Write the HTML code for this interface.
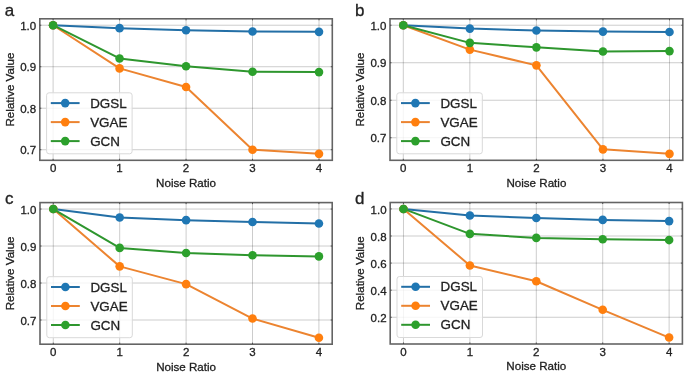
<!DOCTYPE html>
<html><head><meta charset="utf-8"><style>
html,body{margin:0;padding:0;background:#fff;}
body{width:685px;height:376px;overflow:hidden;}
svg{display:block;will-change:transform;}
text{font-family:"Liberation Sans",sans-serif;fill:#222;stroke:#222;stroke-width:0.3px;}
</style></head><body>
<svg width="685" height="376" viewBox="0 0 685 376">
<rect width="685" height="376" fill="#fff"/>
<g>
<rect x="39.8" y="18.8" width="292.5" height="141.5" fill="#fff"/>
<line x1="53.1" y1="18.8" x2="53.1" y2="160.3" stroke="#000" stroke-opacity="0.2" stroke-width="1.0"/>
<line x1="119.57" y1="18.8" x2="119.57" y2="160.3" stroke="#000" stroke-opacity="0.2" stroke-width="1.0"/>
<line x1="186.05" y1="18.8" x2="186.05" y2="160.3" stroke="#000" stroke-opacity="0.2" stroke-width="1.0"/>
<line x1="252.53" y1="18.8" x2="252.53" y2="160.3" stroke="#000" stroke-opacity="0.2" stroke-width="1.0"/>
<line x1="319" y1="18.8" x2="319" y2="160.3" stroke="#000" stroke-opacity="0.2" stroke-width="1.0"/>
<line x1="39.8" y1="149.72" x2="332.3" y2="149.72" stroke="#000" stroke-opacity="0.2" stroke-width="1.0"/>
<line x1="39.8" y1="108.22" x2="332.3" y2="108.22" stroke="#000" stroke-opacity="0.2" stroke-width="1.0"/>
<line x1="39.8" y1="66.73" x2="332.3" y2="66.73" stroke="#000" stroke-opacity="0.2" stroke-width="1.0"/>
<line x1="39.8" y1="25.23" x2="332.3" y2="25.23" stroke="#000" stroke-opacity="0.2" stroke-width="1.0"/>
<polyline points="53.1,25.23 119.57,28.14 186.05,30.21 252.53,31.46 319,31.87" fill="none" stroke="#236fa6" stroke-width="2.0" stroke-linejoin="round"/>
<circle cx="53.1" cy="25.23" r="4.3" fill="#1f77b4"/>
<circle cx="119.57" cy="28.14" r="4.3" fill="#1f77b4"/>
<circle cx="186.05" cy="30.21" r="4.3" fill="#1f77b4"/>
<circle cx="252.53" cy="31.46" r="4.3" fill="#1f77b4"/>
<circle cx="319" cy="31.87" r="4.3" fill="#1f77b4"/>
<polyline points="53.1,25.23 119.57,68.39 186.05,87.06 252.53,149.72 319,153.87" fill="none" stroke="#ec8430" stroke-width="2.0" stroke-linejoin="round"/>
<circle cx="53.1" cy="25.23" r="4.3" fill="#ff7f0e"/>
<circle cx="119.57" cy="68.39" r="4.3" fill="#ff7f0e"/>
<circle cx="186.05" cy="87.06" r="4.3" fill="#ff7f0e"/>
<circle cx="252.53" cy="149.72" r="4.3" fill="#ff7f0e"/>
<circle cx="319" cy="153.87" r="4.3" fill="#ff7f0e"/>
<polyline points="53.1,25.23 119.57,58.43 186.05,66.31 252.53,71.71 319,72.12" fill="none" stroke="#2e962e" stroke-width="2.0" stroke-linejoin="round"/>
<circle cx="53.1" cy="25.23" r="4.3" fill="#2ca02c"/>
<circle cx="119.57" cy="58.43" r="4.3" fill="#2ca02c"/>
<circle cx="186.05" cy="66.31" r="4.3" fill="#2ca02c"/>
<circle cx="252.53" cy="71.71" r="4.3" fill="#2ca02c"/>
<circle cx="319" cy="72.12" r="4.3" fill="#2ca02c"/>
<rect x="46.6" y="92.8" width="85.5" height="61" rx="2.5" fill="#fff" fill-opacity="0.8" stroke="#d9d9d9" stroke-width="1"/>
<line x1="50.8" y1="103.1" x2="79.6" y2="103.1" stroke="#236fa6" stroke-width="2.0"/>
<circle cx="65.2" cy="103.1" r="4.3" fill="#1f77b4"/>
<text x="90.2" y="107.6" font-size="13.4">DGSL</text>
<line x1="50.8" y1="122.1" x2="79.6" y2="122.1" stroke="#ec8430" stroke-width="2.0"/>
<circle cx="65.2" cy="122.1" r="4.3" fill="#ff7f0e"/>
<text x="90.2" y="126.6" font-size="13.4">VGAE</text>
<line x1="50.8" y1="141.1" x2="79.6" y2="141.1" stroke="#2e962e" stroke-width="2.0"/>
<circle cx="65.2" cy="141.1" r="4.3" fill="#2ca02c"/>
<text x="90.2" y="145.6" font-size="13.4">GCN</text>
<rect x="39.8" y="18.8" width="292.5" height="141.5" fill="none" stroke="#646464" stroke-width="1.6"/>
<line x1="53.1" y1="160.3" x2="53.1" y2="158.8" stroke="#444" stroke-width="0.9"/>
<line x1="53.1" y1="18.8" x2="53.1" y2="20.3" stroke="#444" stroke-width="0.9"/>
<text x="53.1" y="171.9" font-size="11.5" text-anchor="middle">0</text>
<line x1="119.57" y1="160.3" x2="119.57" y2="158.8" stroke="#444" stroke-width="0.9"/>
<line x1="119.57" y1="18.8" x2="119.57" y2="20.3" stroke="#444" stroke-width="0.9"/>
<text x="119.57" y="171.9" font-size="11.5" text-anchor="middle">1</text>
<line x1="186.05" y1="160.3" x2="186.05" y2="158.8" stroke="#444" stroke-width="0.9"/>
<line x1="186.05" y1="18.8" x2="186.05" y2="20.3" stroke="#444" stroke-width="0.9"/>
<text x="186.05" y="171.9" font-size="11.5" text-anchor="middle">2</text>
<line x1="252.53" y1="160.3" x2="252.53" y2="158.8" stroke="#444" stroke-width="0.9"/>
<line x1="252.53" y1="18.8" x2="252.53" y2="20.3" stroke="#444" stroke-width="0.9"/>
<text x="252.53" y="171.9" font-size="11.5" text-anchor="middle">3</text>
<line x1="319" y1="160.3" x2="319" y2="158.8" stroke="#444" stroke-width="0.9"/>
<line x1="319" y1="18.8" x2="319" y2="20.3" stroke="#444" stroke-width="0.9"/>
<text x="319" y="171.9" font-size="11.5" text-anchor="middle">4</text>
<line x1="39.8" y1="149.72" x2="41.3" y2="149.72" stroke="#444" stroke-width="0.9"/>
<line x1="332.3" y1="149.72" x2="330.8" y2="149.72" stroke="#444" stroke-width="0.9"/>
<text x="36.2" y="154.32" font-size="11.5" text-anchor="end">0.7</text>
<line x1="39.8" y1="108.22" x2="41.3" y2="108.22" stroke="#444" stroke-width="0.9"/>
<line x1="332.3" y1="108.22" x2="330.8" y2="108.22" stroke="#444" stroke-width="0.9"/>
<text x="36.2" y="112.82" font-size="11.5" text-anchor="end">0.8</text>
<line x1="39.8" y1="66.73" x2="41.3" y2="66.73" stroke="#444" stroke-width="0.9"/>
<line x1="332.3" y1="66.73" x2="330.8" y2="66.73" stroke="#444" stroke-width="0.9"/>
<text x="36.2" y="71.33" font-size="11.5" text-anchor="end">0.9</text>
<line x1="39.8" y1="25.23" x2="41.3" y2="25.23" stroke="#444" stroke-width="0.9"/>
<line x1="332.3" y1="25.23" x2="330.8" y2="25.23" stroke="#444" stroke-width="0.9"/>
<text x="36.2" y="29.83" font-size="11.5" text-anchor="end">1.0</text>
<text x="186.05" y="186.7" font-size="11.6" text-anchor="middle">Noise Ratio</text>
<text transform="translate(13.7,89.55) rotate(-90)" x="0" y="0" font-size="11.6" text-anchor="middle">Relative Value</text>
<text x="4.7" y="15.8" font-size="17">a</text>
<rect x="390" y="18.8" width="292.8" height="141.5" fill="#fff"/>
<line x1="403.31" y1="18.8" x2="403.31" y2="160.3" stroke="#000" stroke-opacity="0.2" stroke-width="1.0"/>
<line x1="469.85" y1="18.8" x2="469.85" y2="160.3" stroke="#000" stroke-opacity="0.2" stroke-width="1.0"/>
<line x1="536.4" y1="18.8" x2="536.4" y2="160.3" stroke="#000" stroke-opacity="0.2" stroke-width="1.0"/>
<line x1="602.95" y1="18.8" x2="602.95" y2="160.3" stroke="#000" stroke-opacity="0.2" stroke-width="1.0"/>
<line x1="669.49" y1="18.8" x2="669.49" y2="160.3" stroke="#000" stroke-opacity="0.2" stroke-width="1.0"/>
<line x1="390" y1="137.74" x2="682.8" y2="137.74" stroke="#000" stroke-opacity="0.2" stroke-width="1.0"/>
<line x1="390" y1="100.24" x2="682.8" y2="100.24" stroke="#000" stroke-opacity="0.2" stroke-width="1.0"/>
<line x1="390" y1="62.74" x2="682.8" y2="62.74" stroke="#000" stroke-opacity="0.2" stroke-width="1.0"/>
<line x1="390" y1="25.23" x2="682.8" y2="25.23" stroke="#000" stroke-opacity="0.2" stroke-width="1.0"/>
<polyline points="403.31,25.23 469.85,28.61 536.4,30.48 602.95,31.61 669.49,31.98" fill="none" stroke="#236fa6" stroke-width="2.0" stroke-linejoin="round"/>
<circle cx="403.31" cy="25.23" r="4.3" fill="#1f77b4"/>
<circle cx="469.85" cy="28.61" r="4.3" fill="#1f77b4"/>
<circle cx="536.4" cy="30.48" r="4.3" fill="#1f77b4"/>
<circle cx="602.95" cy="31.61" r="4.3" fill="#1f77b4"/>
<circle cx="669.49" cy="31.98" r="4.3" fill="#1f77b4"/>
<polyline points="403.31,25.23 469.85,49.61 536.4,65.36 602.95,149.37 669.49,153.87" fill="none" stroke="#ec8430" stroke-width="2.0" stroke-linejoin="round"/>
<circle cx="403.31" cy="25.23" r="4.3" fill="#ff7f0e"/>
<circle cx="469.85" cy="49.61" r="4.3" fill="#ff7f0e"/>
<circle cx="536.4" cy="65.36" r="4.3" fill="#ff7f0e"/>
<circle cx="602.95" cy="149.37" r="4.3" fill="#ff7f0e"/>
<circle cx="669.49" cy="153.87" r="4.3" fill="#ff7f0e"/>
<polyline points="403.31,25.23 469.85,42.86 536.4,47.36 602.95,51.48 669.49,51.11" fill="none" stroke="#2e962e" stroke-width="2.0" stroke-linejoin="round"/>
<circle cx="403.31" cy="25.23" r="4.3" fill="#2ca02c"/>
<circle cx="469.85" cy="42.86" r="4.3" fill="#2ca02c"/>
<circle cx="536.4" cy="47.36" r="4.3" fill="#2ca02c"/>
<circle cx="602.95" cy="51.48" r="4.3" fill="#2ca02c"/>
<circle cx="669.49" cy="51.11" r="4.3" fill="#2ca02c"/>
<rect x="396.8" y="92.8" width="85.5" height="61" rx="2.5" fill="#fff" fill-opacity="0.8" stroke="#d9d9d9" stroke-width="1"/>
<line x1="401" y1="103.1" x2="429.8" y2="103.1" stroke="#236fa6" stroke-width="2.0"/>
<circle cx="415.4" cy="103.1" r="4.3" fill="#1f77b4"/>
<text x="440.4" y="107.6" font-size="13.4">DGSL</text>
<line x1="401" y1="122.1" x2="429.8" y2="122.1" stroke="#ec8430" stroke-width="2.0"/>
<circle cx="415.4" cy="122.1" r="4.3" fill="#ff7f0e"/>
<text x="440.4" y="126.6" font-size="13.4">VGAE</text>
<line x1="401" y1="141.1" x2="429.8" y2="141.1" stroke="#2e962e" stroke-width="2.0"/>
<circle cx="415.4" cy="141.1" r="4.3" fill="#2ca02c"/>
<text x="440.4" y="145.6" font-size="13.4">GCN</text>
<rect x="390" y="18.8" width="292.8" height="141.5" fill="none" stroke="#646464" stroke-width="1.6"/>
<line x1="403.31" y1="160.3" x2="403.31" y2="158.8" stroke="#444" stroke-width="0.9"/>
<line x1="403.31" y1="18.8" x2="403.31" y2="20.3" stroke="#444" stroke-width="0.9"/>
<text x="403.31" y="171.9" font-size="11.5" text-anchor="middle">0</text>
<line x1="469.85" y1="160.3" x2="469.85" y2="158.8" stroke="#444" stroke-width="0.9"/>
<line x1="469.85" y1="18.8" x2="469.85" y2="20.3" stroke="#444" stroke-width="0.9"/>
<text x="469.85" y="171.9" font-size="11.5" text-anchor="middle">1</text>
<line x1="536.4" y1="160.3" x2="536.4" y2="158.8" stroke="#444" stroke-width="0.9"/>
<line x1="536.4" y1="18.8" x2="536.4" y2="20.3" stroke="#444" stroke-width="0.9"/>
<text x="536.4" y="171.9" font-size="11.5" text-anchor="middle">2</text>
<line x1="602.95" y1="160.3" x2="602.95" y2="158.8" stroke="#444" stroke-width="0.9"/>
<line x1="602.95" y1="18.8" x2="602.95" y2="20.3" stroke="#444" stroke-width="0.9"/>
<text x="602.95" y="171.9" font-size="11.5" text-anchor="middle">3</text>
<line x1="669.49" y1="160.3" x2="669.49" y2="158.8" stroke="#444" stroke-width="0.9"/>
<line x1="669.49" y1="18.8" x2="669.49" y2="20.3" stroke="#444" stroke-width="0.9"/>
<text x="669.49" y="171.9" font-size="11.5" text-anchor="middle">4</text>
<line x1="390" y1="137.74" x2="391.5" y2="137.74" stroke="#444" stroke-width="0.9"/>
<line x1="682.8" y1="137.74" x2="681.3" y2="137.74" stroke="#444" stroke-width="0.9"/>
<text x="386.4" y="142.34" font-size="11.5" text-anchor="end">0.7</text>
<line x1="390" y1="100.24" x2="391.5" y2="100.24" stroke="#444" stroke-width="0.9"/>
<line x1="682.8" y1="100.24" x2="681.3" y2="100.24" stroke="#444" stroke-width="0.9"/>
<text x="386.4" y="104.84" font-size="11.5" text-anchor="end">0.8</text>
<line x1="390" y1="62.74" x2="391.5" y2="62.74" stroke="#444" stroke-width="0.9"/>
<line x1="682.8" y1="62.74" x2="681.3" y2="62.74" stroke="#444" stroke-width="0.9"/>
<text x="386.4" y="67.34" font-size="11.5" text-anchor="end">0.9</text>
<line x1="390" y1="25.23" x2="391.5" y2="25.23" stroke="#444" stroke-width="0.9"/>
<line x1="682.8" y1="25.23" x2="681.3" y2="25.23" stroke="#444" stroke-width="0.9"/>
<text x="386.4" y="29.83" font-size="11.5" text-anchor="end">1.0</text>
<text x="536.4" y="186.7" font-size="11.6" text-anchor="middle">Noise Ratio</text>
<text transform="translate(363.9,89.55) rotate(-90)" x="0" y="0" font-size="11.6" text-anchor="middle">Relative Value</text>
<text x="354.9" y="15.8" font-size="17">b</text>
<rect x="40" y="202.6" width="292.2" height="141.6" fill="#fff"/>
<line x1="53.28" y1="202.6" x2="53.28" y2="344.2" stroke="#000" stroke-opacity="0.2" stroke-width="1.0"/>
<line x1="119.69" y1="202.6" x2="119.69" y2="344.2" stroke="#000" stroke-opacity="0.2" stroke-width="1.0"/>
<line x1="186.1" y1="202.6" x2="186.1" y2="344.2" stroke="#000" stroke-opacity="0.2" stroke-width="1.0"/>
<line x1="252.51" y1="202.6" x2="252.51" y2="344.2" stroke="#000" stroke-opacity="0.2" stroke-width="1.0"/>
<line x1="318.92" y1="202.6" x2="318.92" y2="344.2" stroke="#000" stroke-opacity="0.2" stroke-width="1.0"/>
<line x1="40" y1="320.01" x2="332.2" y2="320.01" stroke="#000" stroke-opacity="0.2" stroke-width="1.0"/>
<line x1="40" y1="283.02" x2="332.2" y2="283.02" stroke="#000" stroke-opacity="0.2" stroke-width="1.0"/>
<line x1="40" y1="246.03" x2="332.2" y2="246.03" stroke="#000" stroke-opacity="0.2" stroke-width="1.0"/>
<line x1="40" y1="209.04" x2="332.2" y2="209.04" stroke="#000" stroke-opacity="0.2" stroke-width="1.0"/>
<polyline points="53.28,209.04 119.69,217.54 186.1,220.13 252.51,221.98 318.92,223.46" fill="none" stroke="#236fa6" stroke-width="2.0" stroke-linejoin="round"/>
<circle cx="53.28" cy="209.04" r="4.3" fill="#1f77b4"/>
<circle cx="119.69" cy="217.54" r="4.3" fill="#1f77b4"/>
<circle cx="186.1" cy="220.13" r="4.3" fill="#1f77b4"/>
<circle cx="252.51" cy="221.98" r="4.3" fill="#1f77b4"/>
<circle cx="318.92" cy="223.46" r="4.3" fill="#1f77b4"/>
<polyline points="53.28,209.04 119.69,266.37 186.1,284.13 252.51,318.53 318.92,337.76" fill="none" stroke="#ec8430" stroke-width="2.0" stroke-linejoin="round"/>
<circle cx="53.28" cy="209.04" r="4.3" fill="#ff7f0e"/>
<circle cx="119.69" cy="266.37" r="4.3" fill="#ff7f0e"/>
<circle cx="186.1" cy="284.13" r="4.3" fill="#ff7f0e"/>
<circle cx="252.51" cy="318.53" r="4.3" fill="#ff7f0e"/>
<circle cx="318.92" cy="337.76" r="4.3" fill="#ff7f0e"/>
<polyline points="53.28,209.04 119.69,247.88 186.1,253.06 252.51,255.27 318.92,256.38" fill="none" stroke="#2e962e" stroke-width="2.0" stroke-linejoin="round"/>
<circle cx="53.28" cy="209.04" r="4.3" fill="#2ca02c"/>
<circle cx="119.69" cy="247.88" r="4.3" fill="#2ca02c"/>
<circle cx="186.1" cy="253.06" r="4.3" fill="#2ca02c"/>
<circle cx="252.51" cy="255.27" r="4.3" fill="#2ca02c"/>
<circle cx="318.92" cy="256.38" r="4.3" fill="#2ca02c"/>
<rect x="46.8" y="276.7" width="85.5" height="61" rx="2.5" fill="#fff" fill-opacity="0.8" stroke="#d9d9d9" stroke-width="1"/>
<line x1="51" y1="287" x2="79.8" y2="287" stroke="#236fa6" stroke-width="2.0"/>
<circle cx="65.4" cy="287" r="4.3" fill="#1f77b4"/>
<text x="90.4" y="291.5" font-size="13.4">DGSL</text>
<line x1="51" y1="306" x2="79.8" y2="306" stroke="#ec8430" stroke-width="2.0"/>
<circle cx="65.4" cy="306" r="4.3" fill="#ff7f0e"/>
<text x="90.4" y="310.5" font-size="13.4">VGAE</text>
<line x1="51" y1="325" x2="79.8" y2="325" stroke="#2e962e" stroke-width="2.0"/>
<circle cx="65.4" cy="325" r="4.3" fill="#2ca02c"/>
<text x="90.4" y="329.5" font-size="13.4">GCN</text>
<rect x="40" y="202.6" width="292.2" height="141.6" fill="none" stroke="#646464" stroke-width="1.6"/>
<line x1="53.28" y1="344.2" x2="53.28" y2="342.7" stroke="#444" stroke-width="0.9"/>
<line x1="53.28" y1="202.6" x2="53.28" y2="204.1" stroke="#444" stroke-width="0.9"/>
<text x="53.28" y="355.8" font-size="11.5" text-anchor="middle">0</text>
<line x1="119.69" y1="344.2" x2="119.69" y2="342.7" stroke="#444" stroke-width="0.9"/>
<line x1="119.69" y1="202.6" x2="119.69" y2="204.1" stroke="#444" stroke-width="0.9"/>
<text x="119.69" y="355.8" font-size="11.5" text-anchor="middle">1</text>
<line x1="186.1" y1="344.2" x2="186.1" y2="342.7" stroke="#444" stroke-width="0.9"/>
<line x1="186.1" y1="202.6" x2="186.1" y2="204.1" stroke="#444" stroke-width="0.9"/>
<text x="186.1" y="355.8" font-size="11.5" text-anchor="middle">2</text>
<line x1="252.51" y1="344.2" x2="252.51" y2="342.7" stroke="#444" stroke-width="0.9"/>
<line x1="252.51" y1="202.6" x2="252.51" y2="204.1" stroke="#444" stroke-width="0.9"/>
<text x="252.51" y="355.8" font-size="11.5" text-anchor="middle">3</text>
<line x1="318.92" y1="344.2" x2="318.92" y2="342.7" stroke="#444" stroke-width="0.9"/>
<line x1="318.92" y1="202.6" x2="318.92" y2="204.1" stroke="#444" stroke-width="0.9"/>
<text x="318.92" y="355.8" font-size="11.5" text-anchor="middle">4</text>
<line x1="40" y1="320.01" x2="41.5" y2="320.01" stroke="#444" stroke-width="0.9"/>
<line x1="332.2" y1="320.01" x2="330.7" y2="320.01" stroke="#444" stroke-width="0.9"/>
<text x="36.4" y="324.61" font-size="11.5" text-anchor="end">0.7</text>
<line x1="40" y1="283.02" x2="41.5" y2="283.02" stroke="#444" stroke-width="0.9"/>
<line x1="332.2" y1="283.02" x2="330.7" y2="283.02" stroke="#444" stroke-width="0.9"/>
<text x="36.4" y="287.62" font-size="11.5" text-anchor="end">0.8</text>
<line x1="40" y1="246.03" x2="41.5" y2="246.03" stroke="#444" stroke-width="0.9"/>
<line x1="332.2" y1="246.03" x2="330.7" y2="246.03" stroke="#444" stroke-width="0.9"/>
<text x="36.4" y="250.63" font-size="11.5" text-anchor="end">0.9</text>
<line x1="40" y1="209.04" x2="41.5" y2="209.04" stroke="#444" stroke-width="0.9"/>
<line x1="332.2" y1="209.04" x2="330.7" y2="209.04" stroke="#444" stroke-width="0.9"/>
<text x="36.4" y="213.64" font-size="11.5" text-anchor="end">1.0</text>
<text x="186.1" y="370.6" font-size="11.6" text-anchor="middle">Noise Ratio</text>
<text transform="translate(13.9,273.4) rotate(-90)" x="0" y="0" font-size="11.6" text-anchor="middle">Relative Value</text>
<text x="4.9" y="203.9" font-size="17">c</text>
<rect x="390.2" y="202.5" width="292.2" height="141.5" fill="#fff"/>
<line x1="403.48" y1="202.5" x2="403.48" y2="344" stroke="#000" stroke-opacity="0.2" stroke-width="1.0"/>
<line x1="469.89" y1="202.5" x2="469.89" y2="344" stroke="#000" stroke-opacity="0.2" stroke-width="1.0"/>
<line x1="536.3" y1="202.5" x2="536.3" y2="344" stroke="#000" stroke-opacity="0.2" stroke-width="1.0"/>
<line x1="602.71" y1="202.5" x2="602.71" y2="344" stroke="#000" stroke-opacity="0.2" stroke-width="1.0"/>
<line x1="669.12" y1="202.5" x2="669.12" y2="344" stroke="#000" stroke-opacity="0.2" stroke-width="1.0"/>
<line x1="390.2" y1="317.26" x2="682.4" y2="317.26" stroke="#000" stroke-opacity="0.2" stroke-width="1.0"/>
<line x1="390.2" y1="290.18" x2="682.4" y2="290.18" stroke="#000" stroke-opacity="0.2" stroke-width="1.0"/>
<line x1="390.2" y1="263.09" x2="682.4" y2="263.09" stroke="#000" stroke-opacity="0.2" stroke-width="1.0"/>
<line x1="390.2" y1="236.01" x2="682.4" y2="236.01" stroke="#000" stroke-opacity="0.2" stroke-width="1.0"/>
<line x1="390.2" y1="208.93" x2="682.4" y2="208.93" stroke="#000" stroke-opacity="0.2" stroke-width="1.0"/>
<polyline points="403.48,208.93 469.89,215.43 536.3,218 602.71,219.9 669.12,221.12" fill="none" stroke="#236fa6" stroke-width="2.0" stroke-linejoin="round"/>
<circle cx="403.48" cy="208.93" r="4.3" fill="#1f77b4"/>
<circle cx="469.89" cy="215.43" r="4.3" fill="#1f77b4"/>
<circle cx="536.3" cy="218" r="4.3" fill="#1f77b4"/>
<circle cx="602.71" cy="219.9" r="4.3" fill="#1f77b4"/>
<circle cx="669.12" cy="221.12" r="4.3" fill="#1f77b4"/>
<polyline points="403.48,208.93 469.89,265.53 536.3,281.24 602.71,309.81 669.12,337.57" fill="none" stroke="#ec8430" stroke-width="2.0" stroke-linejoin="round"/>
<circle cx="403.48" cy="208.93" r="4.3" fill="#ff7f0e"/>
<circle cx="469.89" cy="265.53" r="4.3" fill="#ff7f0e"/>
<circle cx="536.3" cy="281.24" r="4.3" fill="#ff7f0e"/>
<circle cx="602.71" cy="309.81" r="4.3" fill="#ff7f0e"/>
<circle cx="669.12" cy="337.57" r="4.3" fill="#ff7f0e"/>
<polyline points="403.48,208.93 469.89,233.85 536.3,237.91 602.71,239.26 669.12,240.08" fill="none" stroke="#2e962e" stroke-width="2.0" stroke-linejoin="round"/>
<circle cx="403.48" cy="208.93" r="4.3" fill="#2ca02c"/>
<circle cx="469.89" cy="233.85" r="4.3" fill="#2ca02c"/>
<circle cx="536.3" cy="237.91" r="4.3" fill="#2ca02c"/>
<circle cx="602.71" cy="239.26" r="4.3" fill="#2ca02c"/>
<circle cx="669.12" cy="240.08" r="4.3" fill="#2ca02c"/>
<rect x="397" y="276.5" width="85.5" height="61" rx="2.5" fill="#fff" fill-opacity="0.8" stroke="#d9d9d9" stroke-width="1"/>
<line x1="401.2" y1="286.8" x2="430" y2="286.8" stroke="#236fa6" stroke-width="2.0"/>
<circle cx="415.6" cy="286.8" r="4.3" fill="#1f77b4"/>
<text x="440.6" y="291.3" font-size="13.4">DGSL</text>
<line x1="401.2" y1="305.8" x2="430" y2="305.8" stroke="#ec8430" stroke-width="2.0"/>
<circle cx="415.6" cy="305.8" r="4.3" fill="#ff7f0e"/>
<text x="440.6" y="310.3" font-size="13.4">VGAE</text>
<line x1="401.2" y1="324.8" x2="430" y2="324.8" stroke="#2e962e" stroke-width="2.0"/>
<circle cx="415.6" cy="324.8" r="4.3" fill="#2ca02c"/>
<text x="440.6" y="329.3" font-size="13.4">GCN</text>
<rect x="390.2" y="202.5" width="292.2" height="141.5" fill="none" stroke="#646464" stroke-width="1.6"/>
<line x1="403.48" y1="344" x2="403.48" y2="342.5" stroke="#444" stroke-width="0.9"/>
<line x1="403.48" y1="202.5" x2="403.48" y2="204" stroke="#444" stroke-width="0.9"/>
<text x="403.48" y="355.6" font-size="11.5" text-anchor="middle">0</text>
<line x1="469.89" y1="344" x2="469.89" y2="342.5" stroke="#444" stroke-width="0.9"/>
<line x1="469.89" y1="202.5" x2="469.89" y2="204" stroke="#444" stroke-width="0.9"/>
<text x="469.89" y="355.6" font-size="11.5" text-anchor="middle">1</text>
<line x1="536.3" y1="344" x2="536.3" y2="342.5" stroke="#444" stroke-width="0.9"/>
<line x1="536.3" y1="202.5" x2="536.3" y2="204" stroke="#444" stroke-width="0.9"/>
<text x="536.3" y="355.6" font-size="11.5" text-anchor="middle">2</text>
<line x1="602.71" y1="344" x2="602.71" y2="342.5" stroke="#444" stroke-width="0.9"/>
<line x1="602.71" y1="202.5" x2="602.71" y2="204" stroke="#444" stroke-width="0.9"/>
<text x="602.71" y="355.6" font-size="11.5" text-anchor="middle">3</text>
<line x1="669.12" y1="344" x2="669.12" y2="342.5" stroke="#444" stroke-width="0.9"/>
<line x1="669.12" y1="202.5" x2="669.12" y2="204" stroke="#444" stroke-width="0.9"/>
<text x="669.12" y="355.6" font-size="11.5" text-anchor="middle">4</text>
<line x1="390.2" y1="317.26" x2="391.7" y2="317.26" stroke="#444" stroke-width="0.9"/>
<line x1="682.4" y1="317.26" x2="680.9" y2="317.26" stroke="#444" stroke-width="0.9"/>
<text x="386.6" y="321.86" font-size="11.5" text-anchor="end">0.2</text>
<line x1="390.2" y1="290.18" x2="391.7" y2="290.18" stroke="#444" stroke-width="0.9"/>
<line x1="682.4" y1="290.18" x2="680.9" y2="290.18" stroke="#444" stroke-width="0.9"/>
<text x="386.6" y="294.78" font-size="11.5" text-anchor="end">0.4</text>
<line x1="390.2" y1="263.09" x2="391.7" y2="263.09" stroke="#444" stroke-width="0.9"/>
<line x1="682.4" y1="263.09" x2="680.9" y2="263.09" stroke="#444" stroke-width="0.9"/>
<text x="386.6" y="267.69" font-size="11.5" text-anchor="end">0.6</text>
<line x1="390.2" y1="236.01" x2="391.7" y2="236.01" stroke="#444" stroke-width="0.9"/>
<line x1="682.4" y1="236.01" x2="680.9" y2="236.01" stroke="#444" stroke-width="0.9"/>
<text x="386.6" y="240.61" font-size="11.5" text-anchor="end">0.8</text>
<line x1="390.2" y1="208.93" x2="391.7" y2="208.93" stroke="#444" stroke-width="0.9"/>
<line x1="682.4" y1="208.93" x2="680.9" y2="208.93" stroke="#444" stroke-width="0.9"/>
<text x="386.6" y="213.53" font-size="11.5" text-anchor="end">1.0</text>
<text x="536.3" y="370.4" font-size="11.6" text-anchor="middle">Noise Ratio</text>
<text transform="translate(364.1,273.25) rotate(-90)" x="0" y="0" font-size="11.6" text-anchor="middle">Relative Value</text>
<text x="355.1" y="203.9" font-size="17">d</text>
</g>
</svg>
</body></html>
